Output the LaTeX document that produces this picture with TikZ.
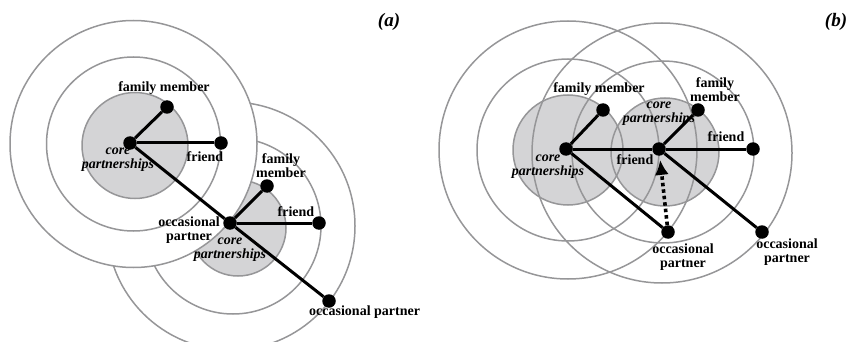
\documentclass[tikz,border=0pt]{standalone}
\usepackage{fontspec}
\setmainfont{Liberation Serif}
\usepackage{tikz}
\usetikzlibrary{positioning,arrows.meta}
\definecolor{ringclr}{RGB}{150,150,152}
\definecolor{coreclr}{RGB}{212,212,214}
\tikzset{
    ring/.style={draw=ringclr,line width=1.5pt},
    outerring/.style={ring,fill=white},
    core/.style={ring,fill=coreclr},
    person/.style={circle,fill=black,inner sep=0pt,minimum size=13.5pt},
    tie/.style={line width=3pt},
    lbl/.style={font=\fontsize{14}{14}\selectfont\bfseries,align=center,inner sep=0pt},
    corelbl/.style={lbl,font=\fontsize{14}{14}\selectfont\bfseries\itshape},
    panel/.style={font=\fontsize{19}{20}\selectfont\bfseries\itshape,inner sep=0pt},
    moveedge/.style={line width=3.6pt,dash pattern=on 3.5pt off 3pt,-{Latex[length=15pt,width=14pt]},shorten >=4pt},
}

\begin{document}
\begin{tikzpicture}[x=1pt,y=-1pt]
\useasboundingbox (0,0) rectangle (851,342);
% (a) rings of the occasional partner, partly hidden
\draw[outerring] (231,226) circle[radius=124];
\draw[ring] (233,226) circle[radius=88];
\draw[core] (238,228) circle[radius=48];
% (a) rings of ego
\draw[outerring] (133.5,144) circle[radius=123.5];
\draw[ring] (133.5,144) circle[radius=87];
\draw[core] (135,145.5) circle[radius=53];

\node[person] (ego1) at (130,143) {};
\node[person] (fam1) at (167,107) {};
\node[person] (fr1)  at (221,143) {};
\node[person] (occ1) at (230,223) {};
\node[person] (fam2) at (267,186) {};
\node[person] (fr2)  at (319,223) {};
\node[person] (occ2) at (329,301) {};

\draw[tie] (ego1) -- (fam1);
\draw[tie] (ego1) -- (fr1);
\draw[tie] (ego1) -- (occ1);
\draw[tie] (occ1) -- (fam2);
\draw[tie] (occ1) -- (fr2);
\draw[tie] (occ1) -- (occ2);

\node[lbl] (fam1lbl) at (164,88) {family member};
\node[lbl] (fr1lbl) at (205,157) {friend};
\node[corelbl] (core1lbl) at (118,160) {core\\partnerships};
\node[lbl] (fam2lbl) at (281,166) {family\\member};
\node[lbl] (fr2lbl) at (296,212) {friend};
\node[lbl] (occ1lbl) at (189,230) {occasional\\partner};
\node[corelbl] (core2lbl) at (230,250) {core\\partnerships};
\node[lbl,anchor=west] (occ2lbl) at (309,312) {occasional partner};
\node[panel] (pa) at (389,22) {(a)};

% (b) both ring sets, cores filled first
\fill[coreclr] (568,150) circle[radius=55];
\fill[coreclr] (665,152) circle[radius=54];
\draw[ring] (568,150) circle[radius=55];
\draw[ring] (568,150) circle[radius=91];
\draw[ring] (568,150) circle[radius=129];
\draw[ring] (665,152) circle[radius=54];
\draw[ring] (663,152) circle[radius=91];
\draw[ring] (662,153) circle[radius=130];

\node[person] (ego2) at (566,149) {};
\node[person] (fam3) at (603,110) {};
\node[person] (fr3)  at (659,149) {};
\node[person] (occ3) at (668,232) {};
\node[person] (fam4) at (698,110) {};
\node[person] (fr4)  at (753,149) {};
\node[person] (occ4) at (762,232) {};

\draw[tie] (ego2) -- (fam3);
\draw[tie] (ego2) -- (fr3);
\draw[tie] (ego2) -- (occ3);
\draw[tie] (fr3) -- (fam4);
\draw[tie] (fr3) -- (fr4);
\draw[tie] (fr3) -- (occ4);
\draw[moveedge] (occ3) -- (fr3);

\node[lbl] (fam3lbl) at (599,89) {family member};
\node[corelbl] (core3lbl) at (548,167) {core\\partnerships};
\node[lbl] (fr3lbl) at (635,160) {friend};
\node[corelbl] (core4lbl) at (659,114) {core\\partnerships};
\node[lbl] (fam4lbl) at (715,90) {family\\member};
\node[lbl] (fr4lbl) at (726,137) {friend};
\node[lbl] (occ3lbl) at (683,257) {occasional\\partner};
\node[lbl] (occ4lbl) at (787,252) {occasional\\partner};
\node[panel] (pb) at (836,22) {(b)};
\end{tikzpicture}
\end{document}
